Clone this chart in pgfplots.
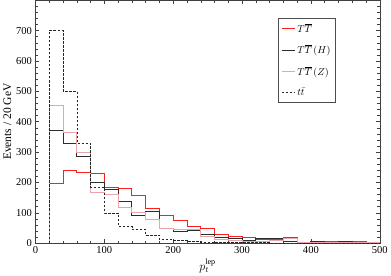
\documentclass[border=0pt]{standalone}
\usepackage{fontspec}
\setmainfont{Liberation Serif}
\usepackage{pgfplots}
\pgfplotsset{compat=1.18}
\definecolor{pinkZ}{RGB}{235,165,170}
\definecolor{redT}{RGB}{255,30,30}
\definecolor{grayH}{RGB}{45,45,45}
\begin{document}
\begin{tikzpicture}
\begin{axis}[
  scale only axis,
  width=343pt, height=242pt,
  xmin=0, xmax=500, ymin=0, ymax=800,
  xtick={0,100,...,500}, ytick={0,100,...,700},
  minor xtick={0,20,...,500}, minor ytick={0,20,...,800},
  tick align=inside,
  major tick length=4pt, minor tick length=2.5pt,
  axis line style={black!75},
  every tick/.style={black!75},
  tick label style={font=\fontsize{10.5}{12}\selectfont},
  /pgf/number format/assume math mode=true,
  xlabel={$p_t^{\mathrm{lep}}$},
  ylabel={Events / 20 GeV},
  label style={font=\fontsize{11.5}{13}\selectfont},
  xlabel style={yshift=2pt},
  ylabel style={yshift=-2pt},
  legend style={at={(0.705,0.925)}, anchor=north west, draw=black!70,
    font=\fontsize{10}{12}\selectfont, row sep=7pt, inner sep=3pt},
  legend cell align=left,
  legend image code/.code={\draw[#1] (0pt,0pt) -- (13pt,0pt);},
]
\addplot[const plot, redT, line width=0.8pt] coordinates {
(20,0)(20,196)(40,240)(60,234)(80,231)(100,185)(120,180)(140,157)(160,115)(180,90)(200,75)(220,55)(240,50)(260,29)(280,22)(300,18)(320,13)(340,13)(360,18)(380,2)(400,4)(420,6)(440,5)(460,6)(480,2)(500,2)};
\addlegendentry{$T\overline{T}$}
\addplot[const plot, grayH, line width=0.8pt] coordinates {
(20,0)(20,372)(40,330)(60,286)(80,200)(100,176)(120,137)(140,90)(160,105)(180,50)(200,38)(220,42)(240,30)(260,20)(280,16)(300,8)(320,15)(340,15)(360,5)(380,2)(400,7)(420,3)(440,6)(460,2)(480,1)(500,1)};
\addlegendentry{$T\overline{T}\,(H)$}
\addplot[const plot, pinkZ, line width=0.8pt] coordinates {
(20,0)(20,453)(40,363)(60,300)(80,168)(100,160)(120,116)(140,100)(160,78)(180,50)(200,45)(220,44)(240,22)(260,13)(280,8)(300,6)(320,5)(340,8)(360,16)(380,1)(400,3)(420,4)(440,2)(460,1)(480,1)(500,1)};
\addlegendentry{$T\overline{T}\,(Z)$}
\addplot[const plot, black!85, dash pattern=on 2.5pt off 1.5pt, line width=0.5pt] coordinates {
(20,0)(20,700)(40,500)(60,330)(80,185)(100,100)(120,55)(140,46)(160,27)(180,12)(200,10)(220,7)(240,4)(260,3)(280,3)(300,2)(320,2)(340,1)(360,1)(380,1)(400,0)(420,0)(440,0)(460,0)(480,0)(500,0)};
\addlegendentry{$t\bar{t}$}
\end{axis}
\end{tikzpicture}
\end{document}
